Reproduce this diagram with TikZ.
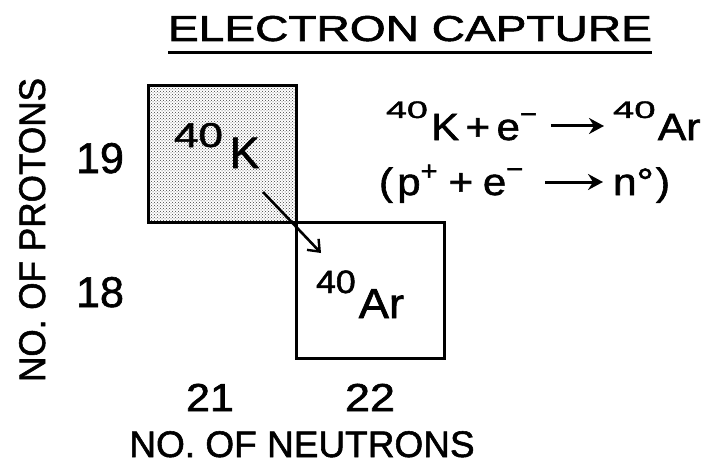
\documentclass[tikz,border=0pt]{standalone}
\usepackage{fontspec}
\setmainfont{Liberation Sans}[FakeBold=1.5]
\usetikzlibrary{arrows.meta,patterns}
\newcommand\rsup[4]{\raisebox{#3}{\scalebox{#1}[#2]{#4}}}
\begin{document}
\begin{tikzpicture}[x=1pt,y=-1pt,
  lbl/.style={inner sep=0pt,outer sep=0pt},
  nuclbox/.style={draw,line width=3pt,minimum width=148pt,minimum height=136pt,inner sep=0pt,outer sep=0pt,anchor=north west},
  eqarrow/.style={line width=3pt,-{Stealth[length=15pt,width=16pt,inset=5pt]}}]
\path[use as bounding box] (0,0) rectangle (708,465);
% title
\node[lbl,anchor=base] (title) at (410,41) {\fontsize{36}{36}\selectfont\scalebox{1.28}[1]{ELECTRON CAPTURE}};
\draw[line width=3pt] ([yshift=-12pt]title.base west) -- ([yshift=-12pt]title.base east);
% boxes
\node[nuclbox,pattern=crosshatch dots,pattern color=black!75] (kbox) at (148,86) {};
\node[nuclbox] (arbox) at (296,222) {};
\draw[line width=3pt] (kbox.north west) rectangle (kbox.south east);
% labels in boxes
\node[lbl,anchor=base west] (klbl) at (174,168) {\fontsize{44}{44}\selectfont\rsup{1.0}{0.78}{21pt}{40}\hspace{7pt}K};
\node[lbl,anchor=base west] (arlbl) at (316,318) {\fontsize{42}{42}\selectfont\rsup{0.85}{0.77}{25pt}{40}\hspace{3pt}\scalebox{1.08}[1]{Ar}};
\coordinate (a1) at (263,192);
\coordinate (a2) at (321,253);
\draw[line width=2.6pt,-{Straight Barb[length=10pt,width=16pt,line width=2.4pt]}] (a1) -- (a2);
% axis labels
\node[lbl,anchor=base,rotate=90] (ylab) at (45,230) {\fontsize{37}{37}\selectfont\scalebox{0.95}[1]{NO. OF PROTONS}};
\node[lbl,anchor=base] (n19) at (100,173) {\fontsize{43}{43}\selectfont 19};
\node[lbl,anchor=base] (n18) at (100,307) {\fontsize{43}{43}\selectfont 18};
\node[lbl,anchor=base] (n21) at (210,411) {\fontsize{39}{39}\selectfont\scalebox{1.1}[1]{21}};
\node[lbl,anchor=base] (n22) at (370,411) {\fontsize{39}{39}\selectfont\scalebox{1.15}[1]{22}};
\node[lbl,anchor=base] (xlab) at (302,457) {\fontsize{37}{37}\selectfont\scalebox{1.0}[1]{NO. OF NEUTRONS}};
% equations
\node[lbl,anchor=base west] (eqa) at (386,140) {\fontsize{38}{38}\selectfont\scalebox{1.1}[1]{\rsup{0.9}{0.63}{22pt}{40}\hspace{3pt}K\hspace{6pt}+\hspace{6pt}e\rsup{0.7}{0.7}{17pt}{−}}};
\node[lbl,anchor=base west] (eqb) at (613,140) {\fontsize{38}{38}\selectfont\scalebox{1.12}[1]{\rsup{0.9}{0.63}{22pt}{40}\hspace{2pt}Ar}};
\draw[eqarrow] ([xshift=14pt,yshift=14pt]eqa.base east) -- ([xshift=-9pt,yshift=14pt]eqb.base west);
\node[lbl,anchor=base west] (eqc) at (379,195) {\fontsize{38}{38}\selectfont\scalebox{1.1}[1]{(\hspace{4pt}p\rsup{0.7}{0.7}{15pt}{+}\hspace{10pt}+\hspace{9pt}e\rsup{0.7}{0.7}{17pt}{−}}};
\node[lbl,anchor=base west] (eqd) at (613,195) {\fontsize{38}{38}\selectfont\scalebox{1.12}[1]{n°\hspace{2pt})}};
\draw[eqarrow] ([xshift=22pt,yshift=13pt]eqc.base east) -- ([xshift=-10pt,yshift=13pt]eqd.base west);
\end{tikzpicture}
\end{document}
